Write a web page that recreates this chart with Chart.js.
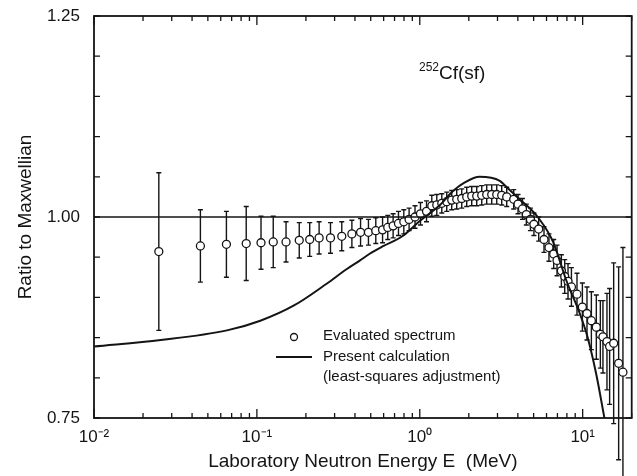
<!DOCTYPE html>
<html>
<head>
<meta charset="utf-8">
<title>252Cf(sf) - Ratio to Maxwellian</title>
<script src="https://cdn.jsdelivr.net/npm/chart.js@4.4.1/dist/chart.umd.min.js"></script>
<style>
  html, body { margin: 0; padding: 0; background: #fff; }
  canvas { display: block; }
</style>
</head>
<body>
<canvas id="chart" width="637" height="476"></canvas>
<script>
// ===============================
// DATA
// ===============================

// evaluated spectrum: energy (MeV), ratio to Maxwellian, +/- uncertainty
const evalEnergy = [
  0.025, 0.045, 0.065, 0.086, 0.106, 0.126, 0.151, 0.182, 0.211, 0.241,
  0.283, 0.332, 0.383, 0.433, 0.484, 0.537, 0.591, 0.636, 0.686, 0.74,
  0.798, 0.86, 0.935, 1.01, 1.10,
  1.185, 1.272, 1.365, 1.464, 1.571, 1.686, 1.810, 1.942, 2.084, 2.237,
  2.401, 2.576, 2.765, 2.968, 3.185, 3.418,
  3.773, 4.01, 4.27, 4.51, 4.78, 5.02, 5.37, 5.79, 6.21, 6.64,
  6.96, 7.40, 7.76, 8.13, 8.53, 9.23, 9.96, 10.63, 11.31, 12.13,
  12.84, 13.32, 14.10, 14.64, 15.50, 16.63, 17.67
];
const evalRatio = [
  0.957, 0.964, 0.966, 0.967, 0.968, 0.969, 0.969, 0.971, 0.972, 0.974,
  0.974, 0.976, 0.979, 0.981, 0.981, 0.983, 0.984, 0.987, 0.989, 0.992,
  0.994, 0.997, 1.000, 1.004, 1.007,
  1.014, 1.015, 1.017, 1.019, 1.021, 1.022, 1.023, 1.025, 1.026, 1.026,
  1.027, 1.028, 1.028, 1.028, 1.027, 1.025,
  1.022, 1.016, 1.010, 1.003, 0.997, 0.991, 0.985, 0.972, 0.962, 0.954,
  0.946, 0.933, 0.926, 0.920, 0.913, 0.904, 0.888, 0.880, 0.871, 0.863,
  0.854, 0.851, 0.845, 0.839, 0.843, 0.818, 0.807
];
const evalError = [
  0.098, 0.045, 0.041, 0.046, 0.033, 0.032, 0.025, 0.022, 0.021, 0.020,
  0.019, 0.018, 0.017, 0.017, 0.016, 0.016, 0.016, 0.015, 0.015, 0.015,
  0.015, 0.014, 0.014, 0.014, 0.013,
  0.013, 0.013, 0.012, 0.012, 0.012, 0.012, 0.012, 0.012, 0.012, 0.012,
  0.012, 0.012, 0.012, 0.012, 0.012, 0.012,
  0.012, 0.012, 0.013, 0.013, 0.014, 0.014, 0.015, 0.016, 0.017, 0.018,
  0.019, 0.020, 0.021, 0.022, 0.024, 0.026, 0.030, 0.033, 0.036, 0.040,
  0.042, 0.045, 0.060, 0.072, 0.100, 0.120, 0.155
];

// present calculation (least-squares adjustment)
const calcEnergy = [
  0.01, 0.0257, 0.0655, 0.105, 0.169, 0.268, 0.355, 0.43, 0.49, 0.60,
  0.78, 1.0, 1.33, 1.594, 1.89, 2.33, 3.10, 3.42, 4.11, 4.73,
  5.3, 6.55, 7.94, 9.6, 10.7, 12.1, 13.6
];
const calcRatio = [
  0.839, 0.847, 0.859, 0.871, 0.890, 0.917, 0.935, 0.946, 0.954, 0.964,
  0.976, 0.995, 1.015, 1.032, 1.043, 1.050, 1.045, 1.037, 1.022, 1.011,
  1.000, 0.970, 0.921, 0.880, 0.851, 0.805, 0.750
];

// reference line at ratio = 1
const unityEnergy = [0.01, 20];
const unityRatio = [1.0, 1.0];

// axes
const xMin = 0.01, xMax = 20;
const yMin = 0.75, yMax = 1.25, yStep = 0.05;
const xDecades = [0.01, 0.1, 1, 10];
const xDecadeLabels = ["10⁻²", "10⁻¹", "10⁰", "10¹"];
const yLabelled = [0.75, 1.00, 1.25];

const INK = "#141414";
const FONT = '"Liberation Sans", Arial, sans-serif';


// ===============================
// HELPERS
// ===============================

const toPoints = (xs, ys) => xs.map((x, i) => ({ x: x, y: ys[i] }));

// 1..9 x 10^k tick positions for the log axis
function logTickValues(min, max) {
  const vals = [];
  for (let k = -2; k <= 1; k++) {
    for (let m = 1; m <= 9; m++) {
      const v = Number((m * Math.pow(10, k)).toPrecision(3));
      if (v >= min && v <= max) vals.push(v);
    }
  }
  return vals;
}
const xTickValues = logTickValues(xMin, xMax);

const isDecade = v => xDecades.some(d => Math.abs(v / d - 1) < 1e-6);


// ===============================
// PLUGINS
// ===============================

// vertical error bars with small caps, drawn below the circles
const errorBars = {
  id: "errorBars",
  beforeDatasetsDraw(chart) {
    const { ctx, scales: { x, y } } = chart;
    ctx.save();
    ctx.strokeStyle = INK;
    ctx.lineWidth = 1.4;
    ctx.beginPath();
    evalEnergy.forEach((e, i) => {
      const px = x.getPixelForValue(e);
      const top = y.getPixelForValue(evalRatio[i] + evalError[i]);
      const bot = y.getPixelForValue(evalRatio[i] - evalError[i]);
      ctx.moveTo(px, top);
      ctx.lineTo(px, bot);
      ctx.moveTo(px - 2.5, top);
      ctx.lineTo(px + 2.5, top);
      ctx.moveTo(px - 2.5, bot);
      ctx.lineTo(px + 2.5, bot);
    });
    ctx.stroke();
    ctx.restore();
  }
};

// box frame with inward ticks on all four sides
const frameTicks = {
  id: "frameTicks",
  afterDraw(chart) {
    const { ctx, chartArea: a, scales: { x, y } } = chart;
    ctx.save();
    ctx.strokeStyle = INK;
    ctx.lineWidth = 1.8;
    ctx.strokeRect(a.left, a.top, a.right - a.left, a.bottom - a.top);

    ctx.lineWidth = 1.3;
    ctx.beginPath();
    xTickValues.forEach(v => {
      const px = x.getPixelForValue(v);
      const len = isDecade(v) ? 9 : 5;
      ctx.moveTo(px, a.bottom);
      ctx.lineTo(px, a.bottom - len);
      ctx.moveTo(px, a.top);
      ctx.lineTo(px, a.top + len);
    });
    y.ticks.forEach(t => {
      const py = y.getPixelForValue(t.value);
      ctx.moveTo(a.left, py);
      ctx.lineTo(a.left + 6, py);
      ctx.moveTo(a.right, py);
      ctx.lineTo(a.right - 6, py);
    });
    ctx.stroke();
    ctx.restore();
  }
};

// nuclide label and the in-plot legend
const notes = {
  id: "notes",
  afterDraw(chart) {
    const { ctx, chartArea: a } = chart;
    ctx.save();
    ctx.fillStyle = INK;
    ctx.textBaseline = "alphabetic";

    // 252Cf(sf)
    ctx.font = `12px ${FONT}`;
    ctx.fillText("252", a.left + 325, a.top + 55);
    ctx.font = `19px ${FONT}`;
    ctx.fillText("Cf(sf)", a.left + 345, a.top + 63);

    // legend
    const lx = a.left + 229;
    ctx.font = `15px ${FONT}`;
    ctx.textBaseline = "middle";
    ctx.fillText("Evaluated spectrum", lx, a.top + 320);
    ctx.fillText("Present calculation", lx, a.top + 341);
    ctx.fillText("(least-squares adjustment)", lx, a.top + 361);

    ctx.strokeStyle = INK;
    ctx.lineWidth = 1.3;
    ctx.fillStyle = "#fff";
    ctx.beginPath();
    ctx.arc(a.left + 200, a.top + 321, 3.5, 0, Math.PI * 2);
    ctx.fill();
    ctx.stroke();

    ctx.lineWidth = 2;
    ctx.beginPath();
    ctx.moveTo(a.left + 182, a.top + 341);
    ctx.lineTo(a.left + 218, a.top + 341);
    ctx.stroke();
    ctx.restore();
  }
};


// ===============================
// CHART
// ===============================

Chart.defaults.font.family = FONT;
Chart.defaults.color = INK;

new Chart(document.getElementById("chart"), {
  type: "scatter",
  data: {
    datasets: [
      {
        label: "unity",
        data: toPoints(unityEnergy, unityRatio),
        showLine: true,
        borderColor: INK,
        borderWidth: 1.3,
        pointRadius: 0
      },
      {
        label: "Present calculation (least-squares adjustment)",
        data: toPoints(calcEnergy, calcRatio),
        showLine: true,
        borderColor: INK,
        borderWidth: 2,
        pointRadius: 0,
        cubicInterpolationMode: "monotone"
      },
      {
        label: "Evaluated spectrum",
        data: toPoints(evalEnergy, evalRatio),
        pointRadius: 4,
        pointBorderWidth: 1.3,
        pointBackgroundColor: "#fff",
        pointBorderColor: INK
      }
    ]
  },
  options: {
    responsive: false,
    animation: false,
    events: [],
    layout: { padding: { top: 16, right: 4, left: 0, bottom: 0 } },
    plugins: {
      legend: { display: false },
      tooltip: { enabled: false }
    },
    scales: {
      x: {
        type: "logarithmic",
        min: xMin,
        max: xMax,
        grid: { display: false, drawTicks: false },
        border: { display: false },
        afterBuildTicks: scale => {
          scale.ticks = xTickValues.map(v => ({ value: v }));
        },
        afterFit: scale => {
          scale.height = 58;
          scale.paddingLeft = 0;
          scale.paddingRight = 0;
        },
        ticks: {
          autoSkip: false,
          maxRotation: 0,
          padding: 9,
          font: { size: 17 },
          callback: v => {
            const i = xDecades.findIndex(d => Math.abs(v / d - 1) < 1e-6);
            return i >= 0 ? xDecadeLabels[i] : "";
          }
        },
        title: {
          display: true,
          text: "Laboratory Neutron Energy E  (MeV)",
          font: { size: 19, lineHeight: 1 },
          padding: { top: 0, bottom: 5 }
        }
      },
      y: {
        min: yMin,
        max: yMax,
        grid: { display: false, drawTicks: false },
        border: { display: false },
        afterFit: scale => {
          scale.width = 94;
          scale.paddingTop = 0;
          scale.paddingBottom = 0;
        },
        ticks: {
          stepSize: yStep,
          autoSkip: false,
          padding: 14,
          font: { size: 17 },
          callback: v => {
            const hit = yLabelled.find(l => Math.abs(v - l) < 1e-6);
            return hit === undefined ? "" : hit.toFixed(2);
          }
        },
        title: {
          display: true,
          text: "Ratio to Maxwellian",
          font: { size: 19, lineHeight: 1 },
          padding: { top: 16, bottom: 0 }
        }
      }
    }
  },
  plugins: [errorBars, frameTicks, notes]
});
</script>
</body>
</html>
